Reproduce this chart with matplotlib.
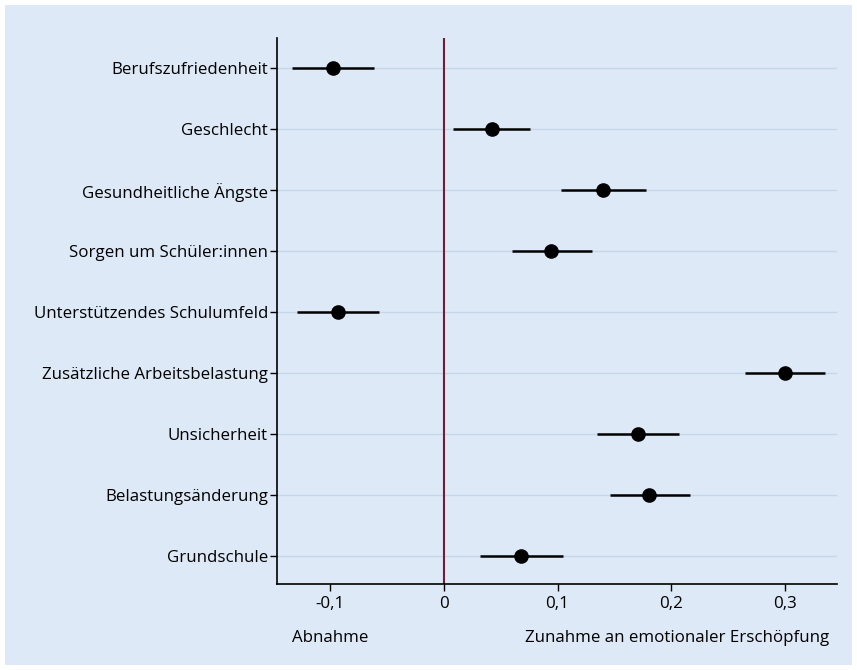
import numpy as np
import matplotlib.pyplot as plt
from matplotlib.patches import Rectangle

# data (top to bottom)
labels = ['Berufszufriedenheit', 'Geschlecht', 'Gesundheitliche Ängste',
          'Sorgen um Schüler:innen', 'Unterstützendes Schulumfeld',
          'Zusätzliche Arbeitsbelastung', 'Unsicherheit', 'Belastungsänderung',
          'Grundschule']
est = [-0.097, 0.042, 0.140, 0.094, -0.093, 0.300, 0.171, 0.180, 0.068]
lo = [-0.133, 0.008, 0.103, 0.060, -0.129, 0.265, 0.135, 0.146, 0.032]
hi = [-0.061, 0.076, 0.178, 0.130, -0.057, 0.335, 0.207, 0.216, 0.105]
xticks = [-0.1, 0, 0.1, 0.2, 0.3]
xticklabels = ['-0,1', '0', '0,1', '0,2', '0,3']

bg = '#dde9f6'
plt.rcParams['font.family'] = ['Open Sans', 'DejaVu Sans']
fs = 12.2

fig = plt.figure(figsize=(8.57, 6.70), dpi=100, facecolor='white')
fig.patches.append(Rectangle((5 / 857, 5 / 670), 847 / 857, 660 / 670,
                             transform=fig.transFigure, facecolor=bg,
                             edgecolor='none', zorder=-10))
ax = fig.add_axes([277 / 857, (670 - 584) / 670, 560 / 857, 546 / 670])
ax.set_facecolor(bg)

n = len(labels)
y = np.arange(n, 0, -1)
for yi in y:
    ax.axhline(yi, color='#c6d6e8', lw=1, zorder=1)
ax.axvline(0, color='#6b1f32', lw=1.5, zorder=2)
ax.hlines(y, lo, hi, color='black', lw=1.8, zorder=3)
ax.plot(est, y, 'o', color='black', ms=9.5, zorder=4)

ax.set_xlim(-0.1465, 0.3456)
ax.set_ylim(0.54, 9.5)
ax.set_yticks(y)
ax.set_yticklabels(labels, fontsize=fs)
ax.set_xticks(xticks)
ax.set_xticklabels(xticklabels, fontsize=fs)
ax.tick_params(axis='both', length=5, width=1, color='black')
ax.tick_params(axis='y', pad=1.5)
ax.tick_params(axis='x', pad=4)
for s in ['top', 'right']:
    ax.spines[s].set_visible(False)
for s in ['left', 'bottom']:
    ax.spines[s].set_linewidth(1.2)

ax.text(-0.1, -0.099, 'Abnahme', transform=ax.get_xaxis_transform(),
        ha='center', va='center', fontsize=fs)
ax.text(0.205, -0.099, 'Zunahme an emotionaler Erschöpfung',
        transform=ax.get_xaxis_transform(), ha='center', va='center', fontsize=fs)

fig.savefig('out.png', dpi=100, facecolor='white')
